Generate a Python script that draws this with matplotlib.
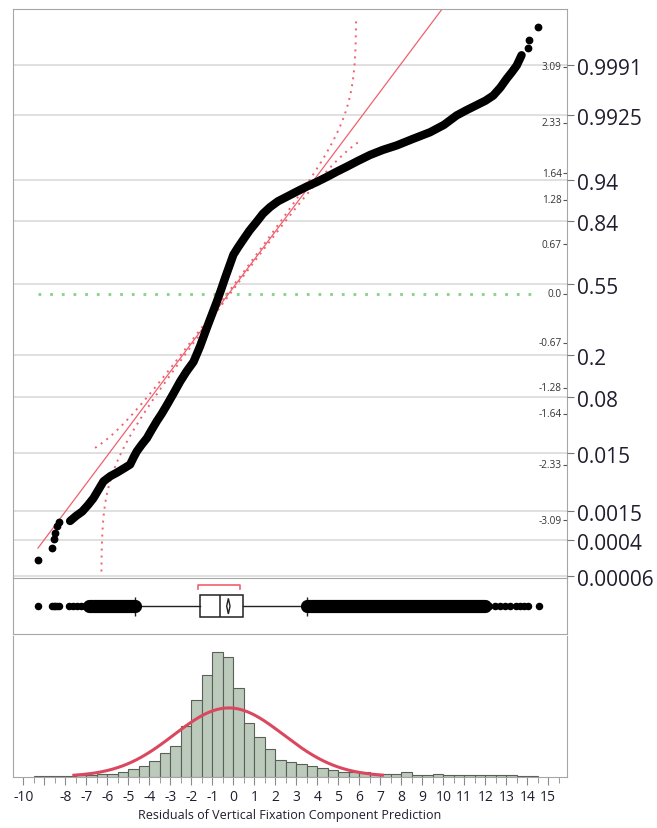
import matplotlib
matplotlib.use('Agg')
import matplotlib.pyplot as plt
import matplotlib.transforms as mtransforms
from matplotlib.patches import Rectangle, Polygon
import numpy as np
from statistics import NormalDist

plt.rcParams['font.family'] = ['Open Sans', 'DejaVu Sans']

# --- normal quantile plot: residuals read along the curve and their normal quantiles
qq_resid = [-7.78, -7.49, -7.20, -6.92, -6.67, -6.44, -6.19, -5.87, -5.55, -5.20,
            -4.92, -4.75, -4.60, -4.37, -4.12, -3.90, -3.65, -3.42, -3.17, -2.85,
            -2.54, -2.23, -1.90, -1.59, -1.27, -1.03, -0.79, -0.59, -0.40, -0.20,
            0.00, 0.22, 0.48, 0.77, 1.11, 1.41, 1.75, 2.13, 2.54, 3.01,
            3.50, 3.96, 4.45, 4.91, 5.40, 5.94, 6.51, 7.13, 7.78, 8.56,
            9.37, 10.03, 10.64, 11.10, 11.59, 12.01, 12.38, 12.72, 13.02, 13.27,
            13.50, 13.73]
qq_quant = [-3.10, -3.03, -2.97, -2.88, -2.79, -2.68, -2.56, -2.49, -2.44, -2.38,
            -2.33, -2.23, -2.15, -2.06, -1.97, -1.86, -1.74, -1.64, -1.52, -1.36,
            -1.20, -1.06, -0.93, -0.72, -0.47, -0.29, -0.11, 0.05, 0.21, 0.37,
            0.53, 0.63, 0.74, 0.86, 0.98, 1.09, 1.18, 1.26, 1.32, 1.39,
            1.46, 1.52, 1.59, 1.66, 1.73, 1.81, 1.89, 1.96, 2.02, 2.11,
            2.20, 2.30, 2.43, 2.50, 2.57, 2.63, 2.70, 2.81, 2.93, 3.02,
            3.11, 3.25]
# single points at both tails
tail_resid = [-9.31, -8.62, -8.57, -8.52, -8.41, -8.33, 14.02, 14.08, 14.50]
tail_quant = [-3.63, -3.47, -3.34, -3.26, -3.17, -3.12, 3.35, 3.46, 3.64]

# normal fit
fit_mean = -0.22
fit_sd = 2.62
band_d = 0.0102          # half width of confidence band (probability scale)
band_range = (-6.59, 6.10)

# axis labels
quant_ticks = [3.09, 2.33, 1.64, 1.28, 0.67, 0.0, -0.67, -1.28, -1.64, -2.33, -3.09]
quant_labels = ['3.09', '2.33', '1.64', '1.28', '0.67', '0.0', '-0.67', '-1.28', '-1.64', '-2.33', '-3.09']
prob_ticks = [0.9991, 0.9925, 0.94, 0.84, 0.55, 0.2, 0.08, 0.015, 0.0015, 0.0004, 0.00006]
prob_labels = ['0.9991', '0.9925', '0.94', '0.84', '0.55', '0.2', '0.08', '0.015', '0.0015', '0.0004', '0.00006']

# --- outlier box plot
q1, median, q3 = -1.59, -0.63, 0.48
whisker_lo, whisker_hi = -4.68, 3.49
mean_val, mean_ci = -0.24, 0.08
shortest_half = (-1.68, 0.32)
out_left_pts = [-9.31, -8.62, -8.55, -8.48, -8.40, -8.30, -7.85, -7.65, -7.45, -7.25, -7.05]
out_left_dense = (-6.9, -4.68)
out_right_dense = (3.49, 12.0)
out_right_pts = [12.2, 12.45, 12.7, 12.95, 13.2, 13.45, 13.65, 13.85, 14.05, 14.55]

# --- histogram
bin_start = -9.5
bin_width = 0.5
hist_counts = [5, 5, 5, 5, 13, 13, 23, 23, 31, 56, 83, 121, 185, 239, 393, 593,
               786, 963, 924, 686, 416, 308, 216, 131, 116, 95, 83, 62, 52, 36, 31, 31,
               21, 21, 21, 33, 13, 13, 23, 13, 13, 13, 13, 13, 13, 13, 5, 5]
curve_range = (-7.6, 7.1)

x_ticks = list(range(-10, 16))
x_ticklabels = ['' if t == -9 else str(t) for t in x_ticks]
x_title = 'Residuals of Vertical Fixation Component Prediction'

xlim = (-10.5, 15.88)
grid_col = '#dadada'
spine_col = '#a6a6a6'
red = '#f0606f'
text_col = '#1e1e2e'

W, H = 657, 829
fig = plt.figure(figsize=(W / 100, H / 100), dpi=100)


def rect(x0, y0, x1, y1):
    return [x0 / W, 1 - y1 / H, (x1 - x0) / W, (y1 - y0) / H]


nd = NormalDist()

# ---------------- QQ panel
ax = fig.add_axes(rect(13, 10, 566.7, 578.5))
ax.set_xlim(xlim)
ax.set_ylim(-3.87, 3.88)
for p in prob_ticks:
    ax.axhline(nd.inv_cdf(p), color=grid_col, lw=1.2, zorder=0)

all_resid = qq_resid + tail_resid
ax.plot([min(all_resid), max(all_resid)], [0, 0], color='#86d286', lw=2,
        ls=(0, (1, 3.2)), zorder=1)

xs = np.array([min(all_resid), 16])
ax.plot(xs, (xs - fit_mean) / fit_sd, color=red, lw=0.9, zorder=2)

bx = np.linspace(band_range[0], band_range[1], 800)
upper, lower = [], []
for v in bx:
    c = nd.cdf((v - fit_mean) / fit_sd)
    upper.append(nd.inv_cdf(c + band_d) if c + band_d < 1 else np.nan)
    lower.append(nd.inv_cdf(c - band_d) if c - band_d > 0 else np.nan)
ax.plot(bx, upper, color=red, lw=1.4, ls=(0, (1, 2.6)), zorder=2)
ax.plot(bx, lower, color=red, lw=1.4, ls=(0, (1, 2.6)), zorder=2)

ax.plot(qq_resid, qq_quant, color='black', lw=6, solid_capstyle='round',
        solid_joinstyle='round', zorder=3)
ax.plot(tail_resid, tail_quant, 'o', color='black', ms=4.6, zorder=3)

ax.set_xticks([])
for s in ['left', 'top', 'right']:
    ax.spines[s].set_color(spine_col)
ax.spines['bottom'].set_visible(False)

ax2 = ax.twinx()
ax2.set_ylim(ax.get_ylim())
ax2.set_yticks([nd.inv_cdf(p) for p in prob_ticks])
ax2.tick_params(axis='y', direction='out', length=5, color='#777777',
                labelright=False, left=False, right=True)
for s in ax2.spines.values():
    s.set_visible(False)

ax.yaxis.tick_right()
ax.set_yticks(quant_ticks)
ax.tick_params(axis='y', direction='in', length=3, color='#555555',
               labelright=False, labelleft=False, left=False, right=True)

qtrans = mtransforms.offset_copy(
    mtransforms.blended_transform_factory(ax.transAxes, ax.transData),
    fig=fig, x=-5, y=0, units='dots')
for t, lab in zip(quant_ticks, quant_labels):
    ax.text(1, t, lab, transform=qtrans, ha='right', va='center',
            fontsize=7.2, color='#333333')

ptrans = mtransforms.offset_copy(
    mtransforms.blended_transform_factory(ax.transAxes, ax.transData),
    fig=fig, x=10, y=-3.5, units='dots')
for p, lab in zip(prob_ticks, prob_labels):
    ax.text(1, nd.inv_cdf(p), lab, transform=ptrans, ha='left', va='center',
            fontsize=15, color=text_col, clip_on=False)

# ---------------- box plot panel
axb = fig.add_axes(rect(13, 579.3, 566.7, 635))
axb.set_xlim(xlim)
axb.set_ylim(0, 1)
axb.plot([whisker_lo, q1], [0.5, 0.5], color='#222222', lw=1)
axb.plot([q3, whisker_hi], [0.5, 0.5], color='#222222', lw=1)
axb.vlines([whisker_lo, whisker_hi], 0.33, 0.67, color='#222222', lw=1)
axb.add_patch(Rectangle((q1, 0.3), q3 - q1, 0.4, fill=False, ec='#222222', lw=1.1))
axb.vlines(median, 0.3, 0.7, color='#222222', lw=1.1)
axb.add_patch(Polygon([(mean_val - mean_ci, 0.5), (mean_val, 0.64),
                       (mean_val + mean_ci, 0.5), (mean_val, 0.36)],
                      closed=True, fill=False, ec='#222222', lw=1))
axb.plot([shortest_half[0], shortest_half[0], shortest_half[1], shortest_half[1]],
         [0.8, 0.885, 0.885, 0.8], color=red, lw=1.2)
for a, b in [out_left_dense, out_right_dense]:
    axb.plot([a, b], [0.5, 0.5], color='black', lw=9.5, solid_capstyle='round')
axb.plot(out_left_pts + out_right_pts, [0.5] * len(out_left_pts + out_right_pts),
         'o', color='black', ms=4.4)
axb.set_xticks([])
axb.set_yticks([])
for s in axb.spines.values():
    s.set_color(spine_col)

# ---------------- histogram panel
axh = fig.add_axes(rect(13, 636.5, 566.7, 777.5))
axh.set_xlim(xlim)
edges = bin_start + bin_width * np.arange(len(hist_counts) + 1)
axh.bar(edges[:-1], hist_counts, width=bin_width, align='edge',
        color='#bccabb', edgecolor='#5a5f5a', lw=0.8, zorder=2)
axh.set_ylim(0, max(hist_counts) * 1.134)
n_total = sum(hist_counts)
cx = np.linspace(curve_range[0], curve_range[1], 400)
cy = [n_total * bin_width * nd.pdf((v - fit_mean) / fit_sd) / fit_sd for v in cx]
axh.plot(cx, cy, color='#d9485e', lw=2.2, zorder=3)

axh.set_yticks([])
axh.set_xticks(x_ticks)
axh.set_xticklabels(x_ticklabels, fontsize=10, color=text_col)
axh.set_xticks(np.arange(-9.5, 15.6, 1.0), minor=True)
axh.tick_params(axis='x', which='major', length=6, color='#8c8c8c', pad=3)
axh.tick_params(axis='x', which='minor', length=4, color='#8c8c8c')
axh.set_xlabel(x_title, fontsize=9, color=text_col, labelpad=3)
for s in ['left', 'right', 'bottom']:
    axh.spines[s].set_color(spine_col)
axh.spines['top'].set_visible(False)

fig.savefig('out.png', dpi=100)
